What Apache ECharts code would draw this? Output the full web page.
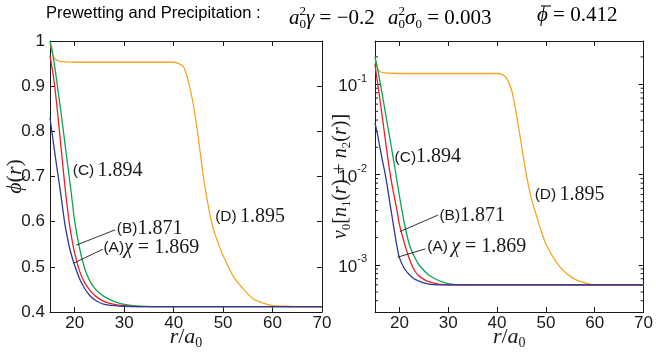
<!DOCTYPE html>
<html><head><meta charset="utf-8">
<script src="https://cdn.jsdelivr.net/npm/echarts@6/dist/echarts.min.js"></script>
<style>html,body{margin:0;padding:0;background:#fff}#c{width:656px;height:355px}</style>
</head><body><div id="c"></div>
<script>
// ---------- data ----------
const rABC = [15,15.5,16,16.5,17,17.5,18,18.5,19,19.5,20,21,22,23,24,25,26,28,30,33,36,40,50,60,70];
const phiA = [0.83,0.79,0.75,0.712,0.675,0.635,0.595,0.565,0.54,0.52,0.503,0.473,0.452,0.437,0.427,0.421,0.417,0.414,0.4125,0.412,0.412,0.412,0.412,0.412,0.412];
const phiB = [0.967,0.935,0.895,0.845,0.79,0.735,0.68,0.632,0.59,0.557,0.53,0.49,0.465,0.449,0.437,0.429,0.423,0.417,0.414,0.412,0.412,0.412,0.412,0.412,0.412];
const phiC = [1.0,0.975,0.94,0.90,0.86,0.818,0.775,0.732,0.69,0.645,0.60,0.54,0.497,0.47,0.453,0.442,0.434,0.423,0.417,0.413,0.412,0.412,0.412,0.412,0.412];
const nA = [0.037,0.028,0.020,0.0145,0.0107,0.0075,0.005,0.0034,0.0023,0.0016,0.0012,0.00091,0.00078,0.0007,0.00066,0.00063,0.00061,0.0006,0.0006,0.0006,0.0006,0.0006,0.0006,0.0006,0.0006];
const nB = [0.165,0.105,0.068,0.043,0.027,0.017,0.011,0.0076,0.0055,0.004,0.0028,0.00175,0.00118,0.00088,0.00075,0.00069,0.00065,0.00061,0.0006,0.0006,0.0006,0.0006,0.0006,0.0006,0.0006];
const nC = [0.2,0.15,0.108,0.076,0.053,0.037,0.026,0.018,0.0125,0.0085,0.0058,0.0029,0.0017,0.00125,0.001,0.00087,0.00077,0.00067,0.00062,0.0006,0.0006,0.0006,0.0006,0.0006,0.0006];
const rD = [15,15.5,16,17,18,20,25,30,35,40,41,42,43,44,45,46,47,48,49,50,52,54,56,58,60,62,65,70];
const phiD = [1.0,0.972,0.96,0.955,0.954,0.953,0.953,0.953,0.953,0.953,0.95,0.943,0.91,0.858,0.785,0.70,0.635,0.585,0.553,0.525,0.48,0.452,0.43,0.42,0.414,0.413,0.412,0.412];
const nD = [0.2,0.15,0.138,0.133,0.132,0.131,0.131,0.131,0.131,0.131,0.128,0.115,0.085,0.045,0.021,0.0098,0.0055,0.0036,0.0024,0.0017,0.0011,0.00082,0.00069,0.00063,0.0006,0.0006,0.0006,0.0006];
const rRange = [15, 70];
const phiRange = [0.4, 1];
const nRange = [0.0003, 0.3];
const minorTicks = [0.0004,0.0005,0.0006,0.0007,0.0008,0.0009,0.002,0.003,0.004,0.005,0.006,0.007,0.008,0.009,0.02,0.03,0.04,0.05,0.06,0.07,0.08,0.09,0.2];
const labelC = '1.894', labelB = '1.871', labelA = '1.869', labelD = '1.895';
const gammaVal = '−0.2', sigmaVal = '0.003', phiBarVal = '0.412';

// ---------- annotation anchors (data coords) ----------
const annLeft = [
  {p:[19.6,0.712], t:'{s|(C)} {n|'+labelC+'}'},
  {p:[28.5,0.584], t:'{s|(B)}{n|'+labelB+'}'},
  {p:[25.8,0.542], t:'{s|(A)}{g|χ}{n| = '+labelA+'}'},
  {p:[48.4,0.611], t:'{s|(D)} {n|'+labelD+'}'}
];
const arrowsLeft = [[[28.2,0.582],[20.3,0.548]],[[25.7,0.539],[19.75,0.508]]];
const annRight = [
  {p:[19.0,0.0155], t:'{s|(C)}{n|'+labelC+'}'},
  {p:[28.2,0.0035], t:'{s|(B)}{n|'+labelB+'}'},
  {p:[25.7,0.00157], t:'{s|(A)} {g|χ}{n| = '+labelA+'}'},
  {p:[47.7,0.0059], t:'{s|(D)} {n|'+labelD+'}'}
];
const arrowsRight = [[[27.9,0.00355],[20.1,0.00233]],[[25.3,0.0015],[19.6,0.00121]]];

// ---------- styles ----------
const INK = '#1a1a1a';
const SANS = 'Liberation Sans, Arial, sans-serif';
const SERIF = 'Liberation Serif, DejaVu Serif, serif';
const COL = {A:'#2b3a9b', B:'#ec1f27', C:'#0aa552', D:'#f6a623'};
const richMath = {
  i:{fontFamily:SERIF, fontStyle:'italic', fontSize:22, color:INK, lineHeight:26},
  n:{fontFamily:SERIF, fontSize:22, color:INK, lineHeight:26},
  sub:{fontFamily:SERIF, fontSize:14, color:INK, lineHeight:14, verticalAlign:'bottom'}
};
const annRich = {
  s:{fontFamily:SANS, fontSize:15.5, color:INK, lineHeight:22},
  n:{fontFamily:SERIF, fontSize:20, color:INK, lineHeight:22},
  g:{fontFamily:SERIF, fontStyle:'italic', fontSize:20, color:INK, lineHeight:22}
};

function pairs(xs, ys){ return xs.map((x,i)=>[x, ys[i]]); }

function baseAxis(extra){
  return Object.assign({
    type:'value', splitLine:{show:false}, nameMoveOverlap:false,
    axisLine:{show:true, onZero:false, lineStyle:{color:INK, width:1}},
    axisTick:{show:true, inside:true, length:5, lineStyle:{color:INK}},
    axisLabel:{color:INK, fontFamily:SANS, fontSize:17}
  }, extra);
}
const noLabel = {show:false};

const xAxes = [];
const yAxes = [];
[0,1].forEach(g=>{
  xAxes.push(baseAxis({gridIndex:g, position:'bottom', min:rRange[0], max:rRange[1],
    axisLabel:{color:INK, fontFamily:SANS, fontSize:17, margin:3, showMinLabel:false},
    name:'{i|r}{n|/}{i|a}{sub|0}', nameLocation:'middle', nameGap:12,
    nameTextStyle:{rich:richMath}}));
  xAxes.push(baseAxis({gridIndex:g, position:'top', min:rRange[0], max:rRange[1], axisLabel:noLabel}));
});
yAxes.push(baseAxis({gridIndex:0, position:'left', min:phiRange[0], max:phiRange[1], interval:0.1,
  axisLabel:{color:INK, fontFamily:SANS, fontSize:17, margin:5, formatter:v=> (Math.abs(v-1)<1e-9 ? '1' : v.toFixed(1))},
  name:'{i|ϕ}{n|(}{i|r}{n|)}', nameLocation:'middle', nameGap:22, nameTextStyle:{rich:richMath}}));
yAxes.push(baseAxis({gridIndex:0, position:'right', min:phiRange[0], max:phiRange[1], interval:0.1, axisLabel:noLabel}));
const logFmt = v => { const e = Math.log10(v); const r = Math.round(e); if (Math.abs(e-r) > 0.01) return ''; return '{b|10}{s|'+r+'}'; };
yAxes.push(baseAxis({gridIndex:1, type:'log', logBase:10, position:'left', min:nRange[0], max:nRange[1],
  axisLabel:{color:INK, fontFamily:SANS, fontSize:17, margin:8, formatter:logFmt,
    showMinLabel:false, showMaxLabel:false,
    rich:{b:{fontFamily:SANS, fontSize:17, color:INK, lineHeight:22, verticalAlign:'bottom'}, s:{fontFamily:SANS, fontSize:11, color:INK, lineHeight:11, verticalAlign:'top'}}},
  name:'{i|v}{sub|0}{n|[}{i|n}{sub|1}{n|(}{i|r}{n|) + }{i|n}{sub|2}{n|(}{i|r}{n|)]}', nameLocation:'middle', nameGap:22,
  nameTextStyle:{rich:{i:{fontFamily:SERIF, fontStyle:'italic', fontSize:20, color:INK, lineHeight:24}, n:{fontFamily:SERIF, fontSize:20, color:INK, lineHeight:24}, sub:{fontFamily:SERIF, fontSize:13, color:INK, lineHeight:13, verticalAlign:'bottom'}}}}));
yAxes.push(baseAxis({gridIndex:1, type:'log', logBase:10, position:'right', min:nRange[0], max:nRange[1], axisLabel:noLabel}));

function line(name, xs, ys, color, xi, yi){
  return {type:'line', name, xAxisIndex:xi, yAxisIndex:yi, data:pairs(xs, ys), showSymbol:false, smooth:0.3,
    lineStyle:{color, width:1.3}, itemStyle:{color}, silent:true, animation:false, z:3};
}
function annSeries(list, arrows, xi, yi){
  return {type:'scatter', xAxisIndex:xi, yAxisIndex:yi, symbolSize:0, silent:true, animation:false, z:5,
    itemStyle:{opacity:1},
    data: list.map(a=>({value:a.p, label:{show:true, position:'right', distance:0, opacity:1, color:INK, formatter:a.t, rich:annRich}})),
    markLine:{silent:true, animation:false, symbol:['none','arrow'], symbolSize:[0,7],
      lineStyle:{color:INK, width:0.9, type:'solid', opacity:1}, label:{show:false},
      data: arrows.map(ar=>[{coord:ar[0]},{coord:ar[1]}])}};
}
const minorSeries = {type:'custom', xAxisIndex:2, yAxisIndex:2, silent:true, animation:false, clip:false,
  data: minorTicks.map(v=>[rRange[0], v]),
  encode:{x:0, y:1},
  renderItem:(params, api)=>{
    const v = api.value(1);
    const pL = api.coord([rRange[0], v]);
    const pR = api.coord([rRange[1], v]);
    return {type:'group', children:[
      {type:'line', shape:{x1:pL[0], y1:pL[1], x2:pL[0]+3, y2:pL[1]}, style:{stroke:INK, lineWidth:1}},
      {type:'line', shape:{x1:pR[0]-3, y1:pR[1], x2:pR[0], y2:pR[1]}, style:{stroke:INK, lineWidth:1}}
    ]};
  }};

const titleRich = {
  s:{fontFamily:SANS, fontSize:16.5, color:'#333', lineHeight:26},
  m:{fontFamily:SERIF, fontSize:21, color:INK, lineHeight:26},
  mi:{fontFamily:SERIF, fontStyle:'italic', fontSize:21, color:INK, lineHeight:26},
  sup:{fontFamily:SERIF, fontSize:13, color:INK, lineHeight:13, verticalAlign:'top', width:0.1},
  sub:{fontFamily:SERIF, fontSize:13, color:INK, lineHeight:13, verticalAlign:'bottom'}
};
const TITLE_TOP = 5;
const titleParts = [
  {x:46, t:'{s|Prewetting and Precipitation :}'},
  {x:289, t:'{mi|a}{sup|2}{sub|0}{mi|γ}{m| = '+gammaVal+'}'},
  {x:388, t:'{mi|a}{sup|2}{sub|0}{mi|σ}{sub|0}{m| = '+sigmaVal+'}'},
  {x:537, t:'{mi|ϕ}{m| = '+phiBarVal+'}'}
];
const graphics = titleParts.map(p=>({type:'text', left:p.x, top:TITLE_TOP, style:{text:p.t, rich:titleRich}}));
graphics.push({type:'line', shape:{x1:541, y1:TITLE_TOP+1, x2:551, y2:TITLE_TOP+1}, style:{stroke:INK, lineWidth:1.2}});

const chart = echarts.init(document.getElementById('c'), null, {renderer:'canvas'});
chart.setOption({
  animation:false,
  backgroundColor:'#fff',
  graphic: graphics,
  grid:[{left:50, top:41, width:272, height:271}, {left:375, top:41, width:271, height:271}],
  xAxis:xAxes, yAxis:yAxes,
  series:[
    line('D', rD, phiD, COL.D, 0, 0),
    line('C', rABC, phiC, COL.C, 0, 0),
    line('B', rABC, phiB, COL.B, 0, 0),
    line('A', rABC, phiA, COL.A, 0, 0),
    line('D', rD, nD, COL.D, 2, 2),
    line('C', rABC, nC, COL.C, 2, 2),
    line('B', rABC, nB, COL.B, 2, 2),
    line('A', rABC, nA, COL.A, 2, 2),
    annSeries(annLeft, arrowsLeft, 0, 0),
    annSeries(annRight, arrowsRight, 2, 2),
    minorSeries
  ]
});
</script></body></html>
